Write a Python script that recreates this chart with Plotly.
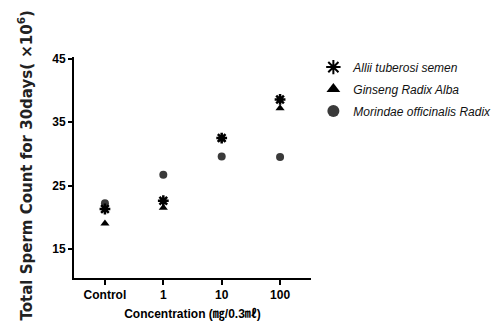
import plotly.graph_objects as go

categories = ["Control", "1", "10", "100"]
allii = [21.3, 22.6, 32.5, 38.6]
ginseng = [19.0, 21.5, 32.3, 37.2]
morindae = [22.2, 26.7, 29.6, 29.5]
y_ticks = [15, 25, 35, 45]

narrow = "Liberation Sans Narrow, Arial Narrow, Liberation Sans, Arial"

fig = go.Figure()
fig.add_trace(go.Scatter(
    x=categories, y=morindae, mode="markers", name="Morindae officinalis Radix",
    legendrank=3, legendgroup="c",
    marker=dict(symbol="circle", size=8, color="#3a3a3a", line=dict(width=0))))
fig.add_trace(go.Scatter(
    x=categories, y=ginseng, mode="markers", name="Ginseng Radix Alba",
    legendrank=2, legendgroup="b",
    marker=dict(symbol="triangle-up", size=8, color="black", line=dict(width=0))))
fig.add_trace(go.Scatter(
    x=categories, y=allii, mode="markers", name="Allii tuberosi semen",
    legendrank=1, legendgroup="a",
    marker=dict(symbol="asterisk-open", size=9, color="black",
                line=dict(width=2.5, color="black"))))

fig.update_layout(
    width=504, height=324,
    margin=dict(l=66, r=201, t=49, b=54),
    paper_bgcolor="white", plot_bgcolor="white",
    showlegend=True,
    legend=dict(x=1.01, y=1.02, xanchor="left", yanchor="top",
                font=dict(family=narrow, size=12, color="#111", style="italic"),
                tracegroupgap=3, itemsizing="constant",
                bgcolor="rgba(0,0,0,0)"),
    font=dict(family=narrow, color="black"),
)
fig.update_xaxes(
    type="category", categoryorder="array", categoryarray=categories,
    range=[-0.53, 3.53],
    showline=True, linecolor="black", linewidth=2,
    ticks="outside", ticklen=5, tickwidth=1.5, tickcolor="black",
    showgrid=False, zeroline=False,
    tickfont=dict(family=narrow, size=12, color="black", weight="bold"),
    title=dict(text="Concentration (㎎/0.3㎖)", standoff=8,
               font=dict(family="Liberation Sans Narrow, Liberation Sans, Noto Sans CJK KR",
                         size=12, color="black", weight="bold")),
)
fig.update_yaxes(
    range=[10.4, 45.3],
    tickvals=y_ticks, ticktext=[str(v) for v in y_ticks],
    showline=True, linecolor="black", linewidth=2,
    ticks="outside", ticklen=4, tickwidth=1.5, tickcolor="black",
    showgrid=False, zeroline=False,
    tickfont=dict(family=narrow, size=12, color="black", weight="bold"),
)
fig.add_annotation(
    text="Total Sperm Count for 30days( \u00d710<sup>6</sup>)",
    xref="paper", yref="paper", x=-0.205, y=0.511,
    xanchor="center", yanchor="middle", textangle=-90, showarrow=False,
    font=dict(family="DejaVu Sans", size=15, color="#222", weight="bold"),
)

fig.write_html("out.html")
